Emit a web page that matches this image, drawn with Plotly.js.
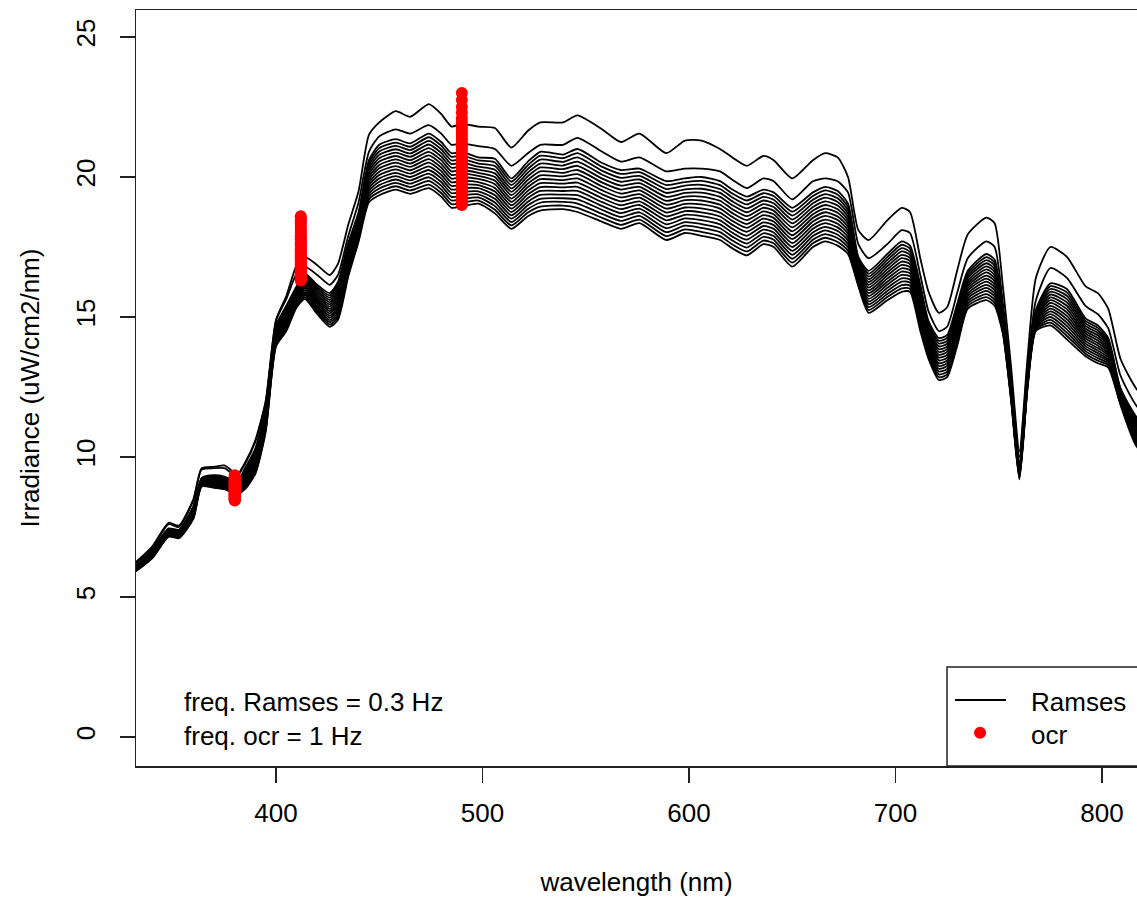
<!DOCTYPE html>
<html>
<head>
<meta charset="utf-8">
<script src="https://cdn.plot.ly/plotly-3.0.1.min.js"></script>
<style>html,body{margin:0;padding:0;background:#fff;overflow:hidden}</style>
</head>
<body>
<div id="chart" style="width:1137px;height:900px"></div>
<script>
// Wavelengths (nm) at which the Ramses scans are read
const wavelength = [330,340,348,353,360,364,370,375,378,381,385,390,395,400,405,410,414,420,426,430,435,440,445,450,458,465,474,480,485,490,498,506,514,522,528,539,546,558,567,576,589,598,606,615,621,628,636,641,650,660,666,672,677,682,687,696,703,707,712,716,721,725,730,735,744,748,752,756,760,764,768,775,783,792,798,803,809,817,825];

// Ramses irradiance (uW/cm2/nm): one row per wavelength, 18 scans from the lowest to the highest
const ramsesRows = [
[5.80,5.81,5.82,5.83,5.84,5.85,5.86,5.87,5.88,5.89,5.90,5.91,5.92,5.93,5.94,5.95,6.05,6.10],
[6.38,6.40,6.42,6.44,6.46,6.48,6.50,6.52,6.54,6.56,6.58,6.60,6.62,6.64,6.66,6.68,6.75,6.80],
[7.15,7.17,7.19,7.21,7.23,7.25,7.27,7.29,7.31,7.33,7.35,7.37,7.39,7.41,7.43,7.45,7.60,7.65],
[7.10,7.12,7.14,7.16,7.18,7.20,7.22,7.24,7.26,7.28,7.30,7.32,7.34,7.36,7.38,7.40,7.50,7.55],
[7.80,7.83,7.86,7.89,7.92,7.95,7.98,8.01,8.04,8.07,8.10,8.13,8.16,8.19,8.22,8.25,8.45,8.50],
[8.95,8.97,8.99,9.01,9.03,9.05,9.07,9.09,9.11,9.13,9.15,9.17,9.19,9.21,9.23,9.25,9.55,9.60],
[8.90,8.93,8.96,8.99,9.02,9.05,9.08,9.11,9.14,9.17,9.20,9.23,9.26,9.29,9.32,9.35,9.60,9.65],
[8.85,8.88,8.91,8.94,8.97,9.00,9.03,9.06,9.09,9.12,9.15,9.18,9.21,9.24,9.27,9.30,9.60,9.70],
[8.75,8.78,8.81,8.84,8.87,8.90,8.93,8.96,8.99,9.02,9.05,9.08,9.11,9.14,9.17,9.20,9.45,9.55],
[8.65,8.68,8.71,8.74,8.77,8.80,8.83,8.86,8.89,8.92,8.95,8.98,9.01,9.04,9.07,9.10,9.30,9.35],
[8.85,8.90,8.95,9.00,9.05,9.10,9.15,9.20,9.25,9.30,9.35,9.40,9.45,9.50,9.55,9.60,9.75,9.80],
[9.40,9.46,9.52,9.58,9.64,9.70,9.76,9.82,9.88,9.94,10.00,10.06,10.12,10.18,10.24,10.30,10.55,10.60],
[10.90,10.96,11.02,11.08,11.14,11.20,11.26,11.32,11.38,11.44,11.50,11.56,11.62,11.68,11.74,11.80,11.95,12.00],
[13.95,14.00,14.05,14.10,14.15,14.20,14.25,14.30,14.35,14.40,14.45,14.50,14.55,14.60,14.65,14.70,14.85,14.90],
[14.50,14.56,14.62,14.68,14.74,14.80,14.86,14.92,14.98,15.04,15.10,15.16,15.22,15.28,15.34,15.40,15.65,15.75],
[15.35,15.40,15.45,15.50,15.55,15.60,15.65,15.70,15.75,15.80,15.85,15.90,15.95,16.00,16.05,16.10,16.55,16.85],
[15.65,15.71,15.77,15.83,15.89,15.95,16.01,16.07,16.13,16.19,16.25,16.31,16.37,16.43,16.49,16.55,16.80,17.15],
[15.10,15.17,15.24,15.31,15.38,15.45,15.52,15.59,15.66,15.73,15.80,15.87,15.94,16.01,16.08,16.15,16.50,16.85],
[14.65,14.73,14.81,14.89,14.97,15.05,15.13,15.21,15.29,15.37,15.45,15.53,15.61,15.69,15.77,15.85,16.15,16.50],
[14.90,14.99,15.08,15.17,15.26,15.35,15.44,15.53,15.62,15.71,15.80,15.89,15.98,16.07,16.16,16.25,16.50,16.90],
[16.45,16.53,16.61,16.69,16.77,16.85,16.93,17.01,17.09,17.17,17.25,17.33,17.41,17.49,17.57,17.65,17.90,18.30],
[17.70,17.77,17.84,17.91,17.98,18.05,18.12,18.19,18.26,18.33,18.40,18.47,18.54,18.61,18.68,18.75,19.10,19.50],
[19.10,19.20,19.30,19.40,19.50,19.60,19.70,19.80,19.90,20.00,20.10,20.20,20.30,20.40,20.50,20.60,20.90,21.50],
[19.35,19.47,19.59,19.71,19.83,19.95,20.07,20.19,20.31,20.43,20.55,20.67,20.79,20.91,21.03,21.15,21.45,21.95],
[19.55,19.67,19.79,19.91,20.03,20.15,20.27,20.39,20.51,20.63,20.75,20.87,20.99,21.11,21.23,21.35,21.70,22.35],
[19.40,19.52,19.64,19.76,19.88,20.00,20.12,20.24,20.36,20.48,20.60,20.72,20.84,20.96,21.08,21.20,21.55,22.15],
[19.60,19.73,19.86,19.99,20.12,20.25,20.38,20.51,20.64,20.77,20.90,21.03,21.16,21.29,21.42,21.55,21.85,22.60],
[19.30,19.43,19.56,19.69,19.82,19.95,20.08,20.21,20.34,20.47,20.60,20.73,20.86,20.99,21.12,21.25,21.55,22.25],
[18.90,19.03,19.16,19.29,19.42,19.55,19.68,19.81,19.94,20.07,20.20,20.33,20.46,20.59,20.72,20.85,21.15,21.80],
[18.95,19.08,19.21,19.34,19.47,19.60,19.73,19.86,19.99,20.12,20.25,20.38,20.51,20.64,20.77,20.90,21.20,21.90],
[19.05,19.16,19.27,19.38,19.49,19.60,19.71,19.82,19.93,20.04,20.15,20.26,20.37,20.48,20.59,20.70,21.10,21.80],
[18.70,18.83,18.96,19.09,19.22,19.35,19.48,19.61,19.74,19.87,20.00,20.13,20.26,20.39,20.52,20.65,21.00,21.75],
[18.15,18.27,18.39,18.51,18.63,18.75,18.87,18.99,19.11,19.23,19.35,19.47,19.59,19.71,19.83,19.95,20.40,21.05],
[18.60,18.73,18.86,18.99,19.12,19.25,19.38,19.51,19.64,19.77,19.90,20.03,20.16,20.29,20.42,20.55,20.85,21.65],
[18.80,18.94,19.08,19.22,19.36,19.50,19.64,19.78,19.92,20.06,20.20,20.34,20.48,20.62,20.76,20.90,21.15,21.95],
[18.85,18.98,19.11,19.24,19.37,19.50,19.63,19.76,19.89,20.02,20.15,20.28,20.41,20.54,20.67,20.80,21.15,21.95],
[18.75,18.90,19.05,19.20,19.35,19.50,19.65,19.80,19.95,20.10,20.25,20.40,20.55,20.70,20.85,21.00,21.40,22.20],
[18.40,18.54,18.68,18.82,18.96,19.10,19.24,19.38,19.52,19.66,19.80,19.94,20.08,20.22,20.36,20.50,20.90,21.70],
[18.15,18.29,18.43,18.57,18.71,18.85,18.99,19.13,19.27,19.41,19.55,19.69,19.83,19.97,20.11,20.25,20.55,21.25],
[18.35,18.48,18.61,18.74,18.87,19.00,19.13,19.26,19.39,19.52,19.65,19.78,19.91,20.04,20.17,20.30,20.70,21.55],
[17.75,17.89,18.03,18.17,18.31,18.45,18.59,18.73,18.87,19.01,19.15,19.29,19.43,19.57,19.71,19.85,20.20,20.85],
[18.00,18.13,18.26,18.39,18.52,18.65,18.78,18.91,19.04,19.17,19.30,19.43,19.56,19.69,19.82,19.95,20.30,21.30],
[17.90,18.04,18.18,18.32,18.46,18.60,18.74,18.88,19.02,19.16,19.30,19.44,19.58,19.72,19.86,20.00,20.30,21.30],
[17.75,17.89,18.03,18.17,18.31,18.45,18.59,18.73,18.87,19.01,19.15,19.29,19.43,19.57,19.71,19.85,20.20,21.00],
[17.45,17.59,17.73,17.87,18.01,18.15,18.29,18.43,18.57,18.71,18.85,18.99,19.13,19.27,19.41,19.55,19.90,20.70],
[17.20,17.34,17.48,17.62,17.76,17.90,18.04,18.18,18.32,18.46,18.60,18.74,18.88,19.02,19.16,19.30,19.60,20.40],
[17.60,17.73,17.86,17.99,18.12,18.25,18.38,18.51,18.64,18.77,18.90,19.03,19.16,19.29,19.42,19.55,19.95,20.75],
[17.50,17.63,17.76,17.89,18.02,18.15,18.28,18.41,18.54,18.67,18.80,18.93,19.06,19.19,19.32,19.45,19.85,20.60],
[16.80,16.94,17.08,17.22,17.36,17.50,17.64,17.78,17.92,18.06,18.20,18.34,18.48,18.62,18.76,18.90,19.20,19.95],
[17.50,17.63,17.76,17.89,18.02,18.15,18.28,18.41,18.54,18.67,18.80,18.93,19.06,19.19,19.32,19.45,19.85,20.60],
[17.70,17.83,17.96,18.09,18.22,18.35,18.48,18.61,18.74,18.87,19.00,19.13,19.26,19.39,19.52,19.65,19.95,20.85],
[17.55,17.68,17.81,17.94,18.07,18.20,18.33,18.46,18.59,18.72,18.85,18.98,19.11,19.24,19.37,19.50,19.85,20.70],
[17.25,17.37,17.49,17.61,17.73,17.85,17.97,18.09,18.21,18.33,18.45,18.57,18.69,18.81,18.93,19.05,19.45,20.00],
[16.10,16.17,16.24,16.31,16.38,16.45,16.52,16.59,16.66,16.73,16.80,16.87,16.94,17.01,17.08,17.15,17.60,18.10],
[15.15,15.25,15.35,15.45,15.55,15.65,15.75,15.85,15.95,16.05,16.15,16.25,16.35,16.45,16.55,16.65,17.10,17.75],
[15.60,15.71,15.82,15.93,16.04,16.15,16.26,16.37,16.48,16.59,16.70,16.81,16.92,17.03,17.14,17.25,17.60,18.45],
[15.90,16.02,16.14,16.26,16.38,16.50,16.62,16.74,16.86,16.98,17.10,17.22,17.34,17.46,17.58,17.70,18.10,18.90],
[15.90,16.01,16.12,16.23,16.34,16.45,16.56,16.67,16.78,16.89,17.00,17.11,17.22,17.33,17.44,17.55,18.00,18.75],
[14.50,14.61,14.72,14.83,14.94,15.05,15.16,15.27,15.38,15.49,15.60,15.71,15.82,15.93,16.04,16.15,16.50,17.10],
[13.50,13.59,13.68,13.77,13.86,13.95,14.04,14.13,14.22,14.31,14.40,14.49,14.58,14.67,14.76,14.85,15.20,15.90],
[12.75,12.85,12.95,13.05,13.15,13.25,13.35,13.45,13.55,13.65,13.75,13.85,13.95,14.05,14.15,14.25,14.50,15.15],
[12.85,12.95,13.05,13.15,13.25,13.35,13.45,13.55,13.65,13.75,13.85,13.95,14.05,14.15,14.25,14.35,14.65,15.35],
[14.00,14.10,14.20,14.30,14.40,14.50,14.60,14.70,14.80,14.90,15.00,15.10,15.20,15.30,15.40,15.50,15.90,16.70],
[15.30,15.39,15.48,15.57,15.66,15.75,15.84,15.93,16.02,16.11,16.20,16.29,16.38,16.47,16.56,16.65,17.10,17.95],
[15.60,15.71,15.82,15.93,16.04,16.15,16.26,16.37,16.48,16.59,16.70,16.81,16.92,17.03,17.14,17.25,17.70,18.55],
[15.40,15.51,15.62,15.73,15.84,15.95,16.06,16.17,16.28,16.39,16.50,16.61,16.72,16.83,16.94,17.05,17.50,18.35],
[14.40,14.45,14.50,14.55,14.60,14.65,14.70,14.75,14.80,14.85,14.90,14.95,15.00,15.05,15.10,15.15,15.50,16.10],
[12.00,12.05,12.10,12.15,12.20,12.25,12.30,12.35,12.40,12.45,12.50,12.55,12.60,12.65,12.70,12.75,12.90,13.20],
[9.20,9.24,9.28,9.32,9.36,9.40,9.44,9.48,9.52,9.56,9.60,9.64,9.68,9.72,9.76,9.80,10.00,10.20],
[12.50,12.54,12.58,12.62,12.66,12.70,12.74,12.78,12.82,12.86,12.90,12.94,12.98,13.02,13.06,13.10,13.30,13.60],
[14.50,14.55,14.60,14.65,14.70,14.75,14.80,14.85,14.90,14.95,15.00,15.05,15.10,15.15,15.20,15.25,15.60,16.40],
[14.70,14.80,14.90,15.00,15.10,15.20,15.30,15.40,15.50,15.60,15.70,15.80,15.90,16.00,16.10,16.20,16.75,17.50],
[14.20,14.32,14.44,14.56,14.68,14.80,14.92,15.04,15.16,15.28,15.40,15.52,15.64,15.76,15.88,16.00,16.40,17.15],
[13.60,13.69,13.78,13.87,13.96,14.05,14.14,14.23,14.32,14.41,14.50,14.59,14.68,14.77,14.86,14.95,15.40,16.10],
[13.35,13.44,13.53,13.62,13.71,13.80,13.89,13.98,14.07,14.16,14.25,14.34,14.43,14.52,14.61,14.70,15.10,15.85],
[13.20,13.27,13.34,13.41,13.48,13.55,13.62,13.69,13.76,13.83,13.90,13.97,14.04,14.11,14.18,14.25,14.60,15.30],
[11.85,11.89,11.93,11.97,12.01,12.05,12.09,12.13,12.17,12.21,12.25,12.29,12.33,12.37,12.41,12.45,12.90,13.50],
[10.35,10.42,10.49,10.56,10.63,10.70,10.77,10.84,10.91,10.98,11.05,11.12,11.19,11.26,11.33,11.40,11.80,12.40],
[10.00,10.06,10.12,10.18,10.24,10.30,10.36,10.42,10.48,10.54,10.60,10.66,10.72,10.78,10.84,10.90,11.30,11.90]
];

// OCR channels (nm) and their readings (uW/cm2/nm)
const ocrWavelength = [380, 412, 490];
const ocr380 = [9.35,9.30,9.27,9.24,9.21,9.18,9.15,9.12,9.10,9.08,9.06,9.04,9.02,9.00,8.98,8.96,8.94,8.92,8.90,8.88,8.86,8.84,8.82,8.80,8.78,8.76,8.74,8.72,8.70,8.68,8.66,8.64,8.62,8.60,8.58,8.56,8.54,8.52,8.50,8.48,8.46,8.45];
const ocr412 = [18.60,18.50,18.42,18.35,18.25,18.15,18.08,18.00,17.92,17.85,17.78,17.70,17.63,17.56,17.50,17.44,17.38,17.32,17.26,17.20,17.15,17.10,17.05,17.00,16.95,16.90,16.86,16.82,16.78,16.74,16.70,16.66,16.62,16.58,16.54,16.50,16.46,16.43,16.40,16.37,16.33,16.30];
const ocr490 = [23.00,22.75,22.50,22.30,22.10,21.95,21.80,21.70,21.60,21.50,21.40,21.30,21.20,21.10,21.00,20.90,20.80,20.70,20.65,20.55,20.45,20.40,20.30,20.20,20.15,20.05,19.95,19.90,19.80,19.75,19.65,19.60,19.50,19.45,19.40,19.30,19.25,19.20,19.15,19.10,19.05,19.00];

const xTicks = [400, 500, 600, 700, 800];
const yTicks = [0, 5, 10, 15, 20, 25];
const legendLabels = ['Ramses', 'ocr'];
const noteLines = ['freq. Ramses = 0.3 Hz', 'freq. ocr = 1 Hz'];

const FONT = {family: '"Liberation Sans", Arial, Helvetica, sans-serif', size: 26, color: '#000'};
const AXIS_COLOR = '#222';

const traces = [];
const nScans = ramsesRows[0].length;
for (let s = 0; s < nScans; s++) {
  traces.push({
    type: 'scatter', mode: 'lines', name: legendLabels[0], legendgroup: 'ramses',
    x: wavelength, y: ramsesRows.map(row => row[s]),
    line: {color: '#000', width: 1.8, shape: 'spline', smoothing: 0.6},
    hoverinfo: 'skip', showlegend: false
  });
}
const ocrX = [], ocrY = [];
[ocr380, ocr412, ocr490].forEach((vals, i) => vals.forEach(v => { ocrX.push(ocrWavelength[i]); ocrY.push(v); }));
traces.push({
  type: 'scatter', mode: 'markers', name: legendLabels[1],
  x: ocrX, y: ocrY, marker: {color: '#ff0000', size: 12, line: {width: 0}},
  hoverinfo: 'skip', showlegend: false
});

const layout = {
  width: 1137, height: 900,
  margin: {l: 136, r: 0, t: 10, b: 134, autoexpand: false},
  paper_bgcolor: '#fff', plot_bgcolor: '#fff',
  font: FONT, showlegend: false,
  xaxis: {
    range: [332.2, 816.95], tickmode: 'array', tickvals: xTicks, ticktext: xTicks.map(String),
    ticks: 'outside', ticklen: 15, tickwidth: 1.5, tickcolor: AXIS_COLOR,
    showline: true, linecolor: AXIS_COLOR, linewidth: 1.5, mirror: true,
    showgrid: false, zeroline: false, tickfont: FONT, ticklabelstandoff: 8, automargin: true,
    title: {text: 'wavelength (nm)', font: FONT, standoff: 46}
  },
  yaxis: {
    range: [-1.036, 25.964], tickmode: 'array', tickvals: yTicks, ticktext: yTicks.map(String),
    ticks: 'outside', ticklen: 15, tickwidth: 1.5, tickcolor: AXIS_COLOR, tickangle: -90,
    showline: true, linecolor: AXIS_COLOR, linewidth: 1.5, mirror: false,
    showgrid: false, zeroline: false, tickfont: FONT, ticklabelstandoff: 14, automargin: true,
    title: {text: 'Irradiance (uW/cm2/nm)', font: FONT, standoff: 24}
  },
  shapes: [
    {type: 'rect', xref: 'paper', yref: 'paper', x0: 0.8102, x1: 1.05, y0: 0, y1: 0.131,
     line: {color: AXIS_COLOR, width: 1.5}, fillcolor: 'rgba(0,0,0,0)'},
    {type: 'line', xref: 'paper', yref: 'paper', x0: 0.8182, x1: 0.8691, y0: 0.0873, y1: 0.0873,
     line: {color: '#000', width: 1.8}},
    {type: 'circle', xref: 'paper', yref: 'paper', xsizemode: 'pixel', ysizemode: 'pixel',
     xanchor: 0.8432, yanchor: 0.0440, x0: -6, x1: 6, y0: -6, y1: 6,
     fillcolor: '#ff0000', line: {width: 0}}
  ],
  annotations: [
    {xref: 'paper', yref: 'paper', x: 0.8931, y: 0.0850, xanchor: 'left', yanchor: 'middle',
     text: legendLabels[0], showarrow: false, font: FONT, borderpad: 0},
    {xref: 'paper', yref: 'paper', x: 0.8931, y: 0.0410, xanchor: 'left', yanchor: 'middle',
     text: legendLabels[1], showarrow: false, font: FONT, borderpad: 0},
    {xref: 'paper', yref: 'paper', x: 0.047, y: 0.0843, xanchor: 'left', yanchor: 'middle',
     text: noteLines[0], showarrow: false, font: FONT, borderpad: 0},
    {xref: 'paper', yref: 'paper', x: 0.047, y: 0.0397, xanchor: 'left', yanchor: 'middle',
     text: noteLines[1], showarrow: false, font: FONT, borderpad: 0}
  ]
};

Plotly.newPlot('chart', traces, layout, {staticPlot: true, displayModeBar: false});
</script>
</body>
</html>
